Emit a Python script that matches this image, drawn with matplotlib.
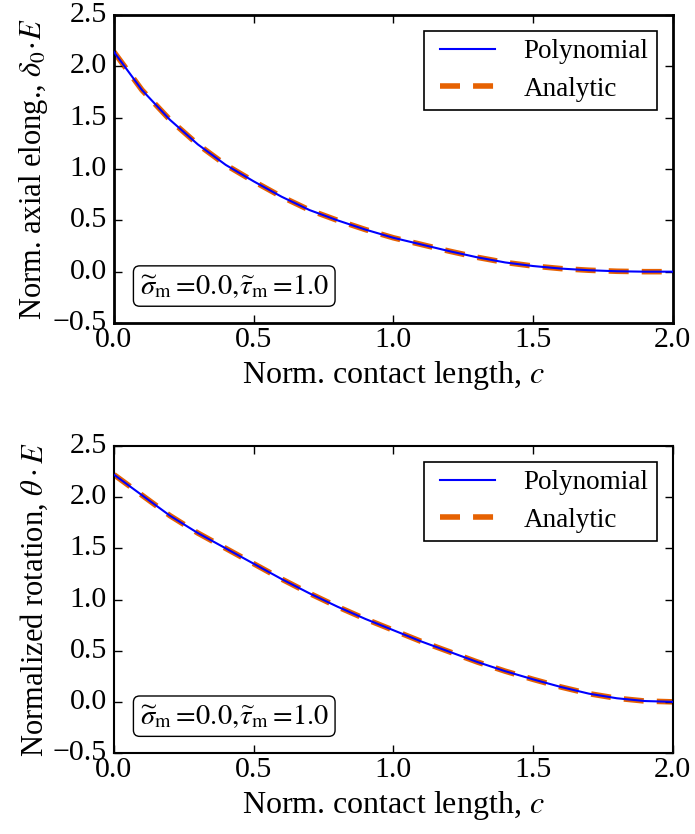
import matplotlib
matplotlib.use("Agg")
import matplotlib.pyplot as plt
import numpy as np

plt.style.use("classic")
plt.rcParams["font.family"] = "serif"
plt.rcParams["font.serif"] = ["Liberation Serif", "DejaVu Serif"]
plt.rcParams["mathtext.fontset"] = "stix"
plt.rcParams["lines.scale_dashes"] = False

# contact length grid and curves
c_vals = [0.0, 0.1, 0.2, 0.3, 0.4, 0.5, 0.6, 0.7, 0.8, 0.9, 1.0,
          1.1, 1.2, 1.3, 1.4, 1.5, 1.6, 1.7, 1.8, 1.9, 2.0]

elong_poly = [2.14, 1.77, 1.48, 1.24, 1.04, 0.88, 0.73, 0.60, 0.50, 0.41, 0.33,
              0.265, 0.20, 0.14, 0.09, 0.055, 0.03, 0.014, 0.004, 0.0, 0.0]
elong_analytic = [2.14, 1.77, 1.48, 1.24, 1.04, 0.88, 0.73, 0.60, 0.50, 0.41, 0.33,
                  0.265, 0.20, 0.14, 0.09, 0.055, 0.03, 0.014, 0.004, 0.0, 0.0]

rot_poly = [2.22, 2.02, 1.82, 1.65, 1.50, 1.35, 1.20, 1.06, 0.93, 0.81, 0.70,
            0.59, 0.49, 0.39, 0.30, 0.22, 0.145, 0.08, 0.035, 0.008, 0.0]
rot_analytic = [2.22, 2.02, 1.82, 1.65, 1.50, 1.35, 1.20, 1.06, 0.93, 0.81, 0.70,
                0.59, 0.49, 0.39, 0.30, 0.22, 0.145, 0.08, 0.035, 0.008, 0.0]

ylabels = [r"Norm. axial elong., $\delta_0\!\cdot\! E$",
           r"Normalized rotation, $\theta\cdot E$"]
xlabel = r"Norm. contact length, $c$"
box_text = r"$\widetilde{\sigma}_{\mathrm{m}}=\!0.0,\!\widetilde{\tau}_{\mathrm{m}}=\!1.0$"

orange = "#e66101"

fig = plt.figure(figsize=(6.95, 8.34), dpi=100, facecolor="white")
ax_top = fig.add_axes([0.164, 0.6127, 0.804, 0.3693])
ax_bot = fig.add_axes([0.164, 0.0971, 0.804, 0.3681])

panels = [(ax_top, elong_poly, elong_analytic, ylabels[0], 2.0),
          (ax_bot, rot_poly, rot_analytic, ylabels[1], 1.5)]

for ax, poly, analytic, ylab, spine_w in panels:
    ax.set_facecolor("white")
    ax.plot(c_vals, poly, color="blue", linewidth=1.5, label="Polynomial", zorder=3)
    ax.plot(c_vals, analytic, color=orange, linewidth=4, linestyle=(0, (14.4, 9.4)),
            dash_capstyle="butt", label="Analytic", zorder=2)
    ax.set_xlim(0.0, 2.0)
    ax.set_ylim(-0.5, 2.5)
    ax.set_xticks(np.arange(0.0, 2.01, 0.5))
    ax.set_yticks(np.arange(-0.5, 2.51, 0.5))
    ax.tick_params(axis="both", which="major", direction="in", length=6, width=1,
                   labelsize=21.5, top=True, right=True)
    ax.tick_params(axis="x", pad=3)
    ax.tick_params(axis="y", pad=5)
    ax.minorticks_off()
    for sp in ax.spines.values():
        sp.set_linewidth(spine_w)
    ax.set_xlabel(xlabel, fontsize=23, labelpad=4)
    ax.set_ylabel(ylab, fontsize=22, labelpad=2)
    leg = ax.legend(loc="upper right", fontsize=19.5, handlelength=2.65, frameon=True,
                    fancybox=False, borderaxespad=0.6, borderpad=0.3,
                    handletextpad=0.74, labelspacing=0.45)
    leg.get_frame().set_edgecolor("black")
    leg.get_frame().set_linewidth(1.2)
    ax.text(0.046, 0.12, box_text, transform=ax.transAxes, fontsize=20.5,
            ha="left", va="center",
            bbox=dict(boxstyle="round,pad=0.22", facecolor="white", edgecolor="black",
                      linewidth=1.0))

fig.savefig("out.png", dpi=100, facecolor="white")
